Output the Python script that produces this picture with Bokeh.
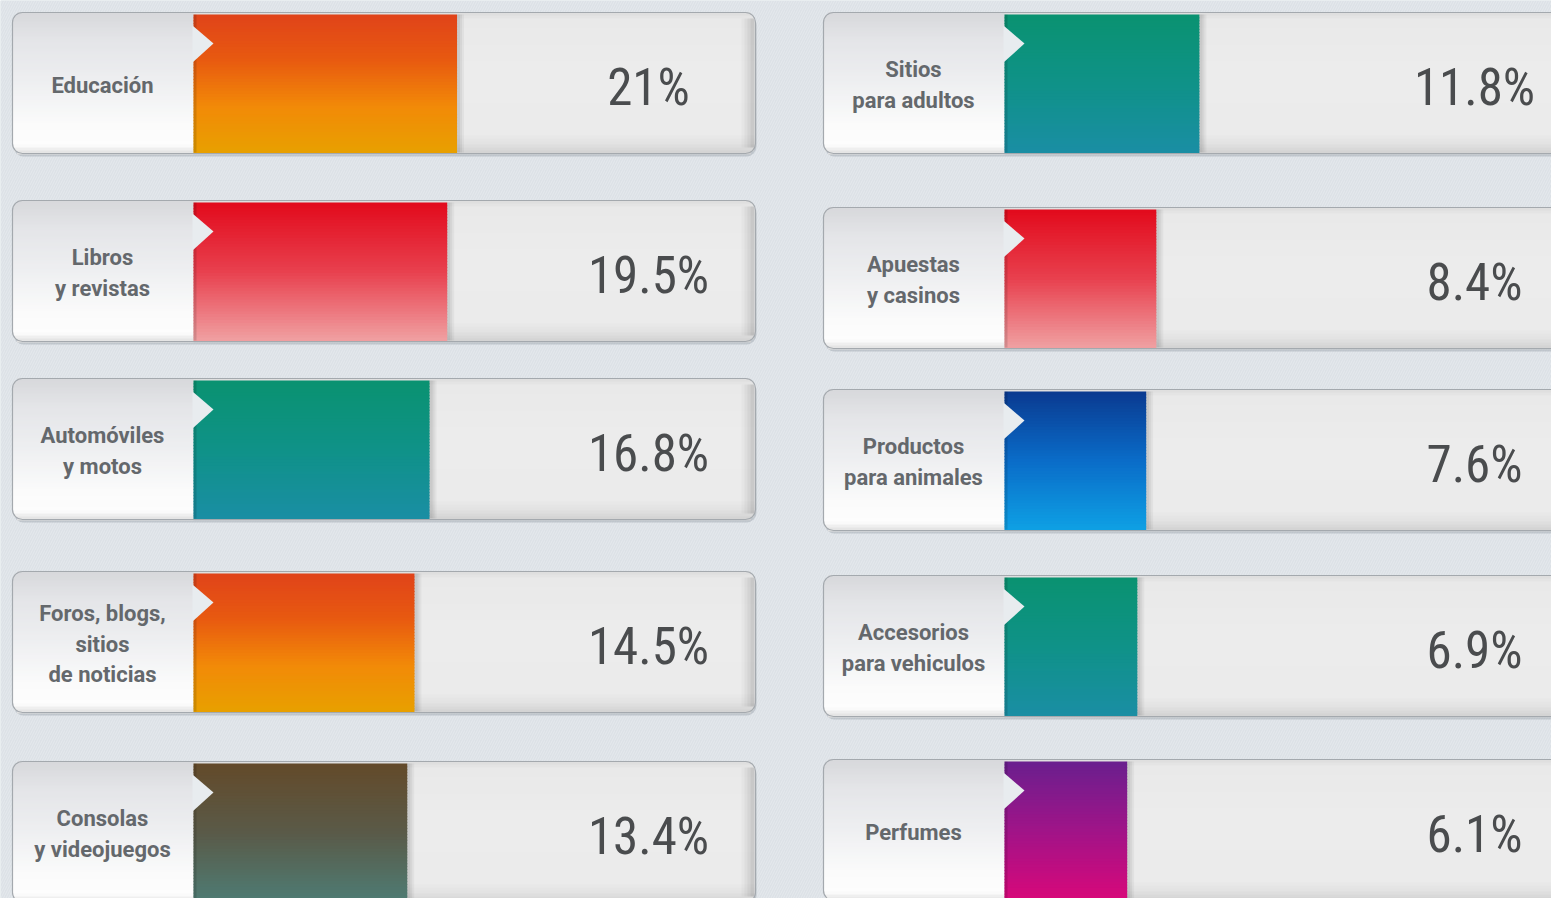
import math
from bokeh.plotting import figure
from bokeh.models import Range1d, ColumnDataSource
from bokeh.embed import file_html
from bokeh.resources import INLINE
from bokeh.core.properties import value

# ---------------- data ----------------
left_categories = ["Educación", "Libros\ny revistas", "Automóviles\ny motos",
                   "Foros, blogs,\nsitios\nde noticias", "Consolas\ny videojuegos"]
left_values = [21.0, 19.5, 16.8, 14.5, 13.4]
left_labels = ["21%", "19.5%", "16.8%", "14.5%", "13.4%"]

right_categories = ["Sitios\npara adultos", "Apuestas\ny casinos", "Productos\npara animales",
                    "Accesorios\npara vehiculos", "Perfumes"]
right_values = [11.8, 8.4, 7.6, 6.9, 6.1]
right_labels = ["11.8%", "8.4%", "7.6%", "6.9%", "6.1%"]

# ---------------- styles / layout ----------------
ORANGE = ["#e0431a", "#e85a10", "#f28a08", "#e8a000"]
RED = ["#e20a1c", "#e8404e", "#f0a0a2"]
TEAL = ["#0a9270", "#0f9288", "#1a8ea4"]
BROWN = ["#634a2a", "#5a5a48", "#4e7c74"]
BLUE = ["#0a3a90", "#0a6cc8", "#0ea0e4"]
PURPLE = ["#6a1f8e", "#a01488", "#d8087a"]
left_colors = [ORANGE, RED, TEAL, ORANGE, BROWN]
right_colors = [TEAL, RED, BLUE, TEAL, PURPLE]

W, H = 1551, 898
PANEL_H = 141
RADIUS = 10
LEFT_X = (12, 193, 755)       # panel left, label/bar split, panel right (px)
RIGHT_X = (823, 1004, 1590)
left_tops = [12, 200, 378, 571, 761]
right_tops = [12, 207, 389, 575, 759]
LEFT_TEXT_X, RIGHT_TEXT_X = 648, 1474
LEFT_LABEL_X, RIGHT_LABEL_X = 102, 913

# value scales for each column (pixel of value 0, pixels per unit)
L_ZERO_PX, L_PX_PER = 319.0, 6.55
R_ZERO_PX, R_PX_PER = 1049.4, 12.67

NUM_FONT = "'Roboto Condensed', 'Liberation Sans Narrow', 'DejaVu Sans Condensed', Roboto, sans-serif"
LABEL_FONT = "Roboto"

BG = "#dce1e6"
N = 47


def hex2rgb(h):
    h = h.lstrip("#")
    return tuple(int(h[i:i + 2], 16) for i in (0, 2, 4))


def grad(stops, t, pos=None):
    if pos is None:
        pos = [i / (len(stops) - 1) for i in range(len(stops))]
    t = min(max(t, 0.0), 1.0)
    for i in range(len(stops) - 1):
        if pos[i] <= t <= pos[i + 1]:
            a, b = hex2rgb(stops[i]), hex2rgb(stops[i + 1])
            u = (t - pos[i]) / (pos[i + 1] - pos[i]) if pos[i + 1] > pos[i] else 0
            c = [round(a[k] + (b[k] - a[k]) * u) for k in range(3)]
            return "#%02x%02x%02x" % tuple(c)
    return stops[-1]


def inset(d, r):
    if d >= r:
        return 0.0
    return r - math.sqrt(max(r * r - (r - d) ** 2, 0.0))


GRAY_STOPS = ["#dcdcdc", "#e9e9e9", "#ececec", "#ebebeb", "#e2e2e2", "#d2d2d2"]
GRAY_POS = [0.0, 0.05, 0.4, 0.86, 0.93, 1.0]
LABEL_STOPS = ["#d7d8db", "#e4e5e8", "#eeeff1", "#fbfbfb", "#fdfdfd", "#e0e0e0"]
LABEL_POS = [0.0, 0.2, 0.5, 0.8, 0.94, 1.0]

p = figure(width=W, height=H, x_range=Range1d(0, W), y_range=Range1d(H, 0),
           output_backend="svg", toolbar_location=None, min_border=0,
           x_axis_location=None, y_axis_location=None)
p.grid.visible = False
p.outline_line_color = None
p.background_fill_color = BG
p.border_fill_color = BG
p.extra_x_ranges = {
    "lv": Range1d(-L_ZERO_PX / L_PX_PER, (W - L_ZERO_PX) / L_PX_PER),
    "rv": Range1d(-R_ZERO_PX / R_PX_PER, (W - R_ZERO_PX) / R_PX_PER),
}

# subtle diagonal striped background
p.quad(left=[0], right=[W], top=[0], bottom=[H], fill_color=BG, line_color=None,
       hatch_pattern="/", hatch_color="#ffffff", hatch_alpha=0.25, hatch_scale=5, hatch_weight=1)


def draw_column(tops, xs, cats, vals, labels, colors, rng, zero_px, px_per, text_x, label_x):
    x0, split, x1 = xs
    # shadows
    p.quad(left=[x0 + 1] * len(tops), right=[x1 + 1] * len(tops),
           top=[t + 3 for t in tops], bottom=[t + PANEL_H + 3 for t in tops],
           fill_color="#9aa2aa", fill_alpha=0.45, line_color=None, border_radius=RADIUS)

    base = dict(l=[], r=[], t=[], b=[], c=[])
    lab = dict(l=[], r=[], t=[], b=[], c=[])
    h = PANEL_H / N
    for top in tops:
        for i in range(N):
            y0 = top + i * h
            ym = y0 + h / 2
            d = min(ym - top, top + PANEL_H - ym)
            ins = inset(d, RADIUS)
            tt = (ym - top) / PANEL_H
            base["l"].append(x0 + ins); base["r"].append(x1 - ins)
            base["t"].append(y0); base["b"].append(y0 + h + 0.8)
            base["c"].append(grad(GRAY_STOPS, tt, GRAY_POS))
            lab["l"].append(x0 + ins); lab["r"].append(split)
            lab["t"].append(y0); lab["b"].append(y0 + h + 0.8)
            lab["c"].append(grad(LABEL_STOPS, tt, LABEL_POS))
    p.quad(left="l", right="r", top="t", bottom="b", fill_color="c", line_color=None,
           source=ColumnDataSource(base))
    # right edge shading of gray area
    for k, a in enumerate([0.025, 0.03, 0.04, 0.05]):
        p.quad(left=[x1 - 14 + k * 3] * len(tops), right=[x1 - 1] * len(tops),
               top=[t + 6 for t in tops], bottom=[t + PANEL_H - 6 for t in tops],
               fill_color="#000000", fill_alpha=a, line_color=None)
    p.quad(left="l", right="r", top="t", bottom="b", fill_color="c", line_color=None,
           source=ColumnDataSource(lab))

    # bars (value -> pixel through the column's own range)
    bar_start = (split - zero_px) / px_per
    bars = dict(l=[], r=[], t=[], b=[], c=[])
    for top, v, cols in zip(tops, vals, colors):
        for i in range(N):
            y0 = top + 2 + i * (PANEL_H - 3) / N
            tt = (i + 0.5) / N
            bars["l"].append(bar_start); bars["r"].append(v)
            bars["t"].append(y0); bars["b"].append(y0 + (PANEL_H - 3) / N + 0.8)
            bars["c"].append(grad(cols, tt))
    p.quad(left="l", right="r", top="t", bottom="b", fill_color="c", line_color=None,
           source=ColumnDataSource(bars), x_range_name=rng)
    # soft shadow right of each bar
    for k, a in enumerate([0.05, 0.05, 0.04]):
        p.quad(left=vals, right=[v + (3 + 2 * k) / px_per for v in vals],
               top=[t + 2 for t in tops], bottom=[t + PANEL_H - 1 for t in tops],
               fill_color="#000000", fill_alpha=a, line_color=None, x_range_name=rng)
    # dark left edge of bar
    p.quad(left=[bar_start] * len(tops), right=[bar_start + 3 / px_per] * len(tops),
           top=[t + 2 for t in tops], bottom=[t + PANEL_H - 1 for t in tops],
           fill_color="#000000", fill_alpha=0.12, line_color=None, x_range_name=rng)

    # notch arrow
    p.patches(xs=[[split - 1, split + 20, split - 1] for _ in tops],
              ys=[[t + 13, t + 31, t + 50] for t in tops],
              fill_color="#e8ecef", line_color=None)

    # outline
    p.quad(left=[x0] * len(tops), right=[x1] * len(tops),
           top=tops, bottom=[t + PANEL_H for t in tops],
           fill_color=None, line_color="#a4a9ae", line_width=1.2, border_radius=RADIUS)

    mids = [t + PANEL_H / 2 for t in tops]
    p.text(x=[label_x] * len(tops), y=[m + 2 for m in mids], text=cats,
           text_font=value(LABEL_FONT), text_font_style="bold", text_font_size="22px",
           text_color="#64686c", text_align="center", text_baseline="middle",
           text_line_height=1.22)
    p.text(x=[text_x] * len(tops), y=[m + 4 for m in mids], text=labels,
           text_font=value(NUM_FONT), text_font_size="51px",
           text_color="#4a4c4e", text_align="center", text_baseline="middle")


draw_column(left_tops, LEFT_X, left_categories, left_values, left_labels, left_colors,
            "lv", L_ZERO_PX, L_PX_PER, LEFT_TEXT_X, LEFT_LABEL_X)
draw_column(right_tops, RIGHT_X, right_categories, right_values, right_labels, right_colors,
            "rv", R_ZERO_PX, R_PX_PER, RIGHT_TEXT_X, RIGHT_LABEL_X)

open("out.html", "w").write(file_html(p, INLINE))
